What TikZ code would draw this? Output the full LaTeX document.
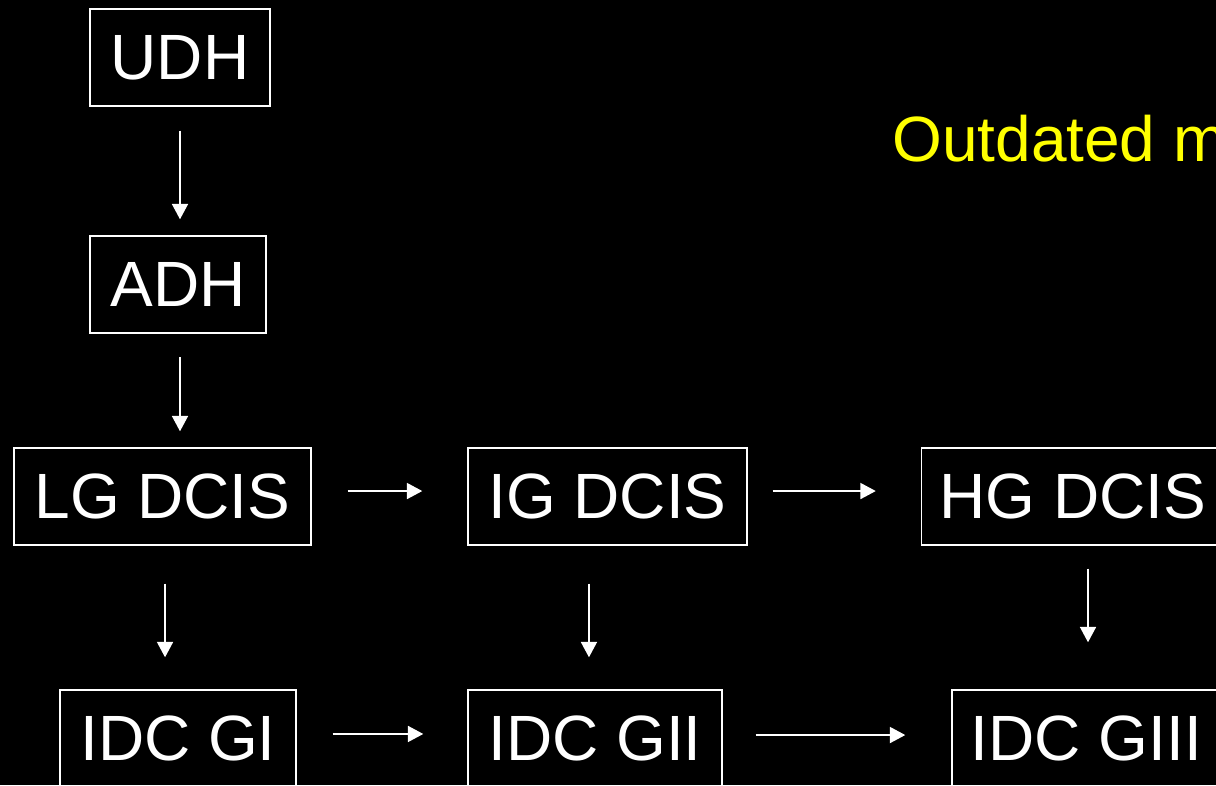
\documentclass[tikz,border=0pt]{standalone}
\usepackage{fontspec}
\setmainfont{Liberation Sans}
\usetikzlibrary{arrows.meta}
\definecolor{notey}{RGB}{255,255,0}
\begin{document}
\begin{tikzpicture}[x=0.75pt,y=-0.75pt,
  stage/.style={draw=white, line width=1.1pt, text=white, inner sep=0pt,
    minimum height=72.75pt, font=\fontsize{48}{58}\selectfont},
  flow/.style={draw=white, line width=1.2pt,
    -{Triangle[length=11.5pt,width=12pt]}}]
\useasboundingbox[fill=black] (0,0) rectangle (1216,785);
\begin{scope}
\clip (0,0) rectangle (1216,785);
% stages of the progression
\node[stage, minimum width=135pt]    (udh)  at (180,57.5)    {UDH};
\node[stage, minimum width=132pt]    (adh)  at (178,284.5)   {ADH};
\node[stage, minimum width=222.75pt] (lg)   at (162.5,496.5) {LG DCIS};
\node[stage, minimum width=209.25pt] (ig)   at (607.5,496.5) {IG DCIS};
\node[stage, minimum width=227.25pt] (hg)   at (1073,496.5)  {HG DCIS};
\node[stage, minimum width=177pt]    (gi)   at (178,738.5)   {IDC GI};
\node[stage, minimum width=190.5pt]  (gii)  at (595,738.5)   {IDC GII};
\node[stage, minimum width=201.75pt] (giii) at (1086.5,738.5){IDC GIII};
% heading
\node[anchor=base west, inner sep=0pt, text=notey,
  font=\fontsize{48}{58}\selectfont] (note) at (892,161) {Outdated m};
% vertical connectors
\draw[flow, shorten <=18pt, shorten >=12pt]
  (udh.south) -- (udh.south |- adh.north);
\draw[flow, shorten <=17.8pt, shorten >=12pt]
  (udh.south |- adh.south) -- (udh.south |- lg.north);
\draw[flow, shorten <=28.5pt, shorten >=24pt]
  ([xshift=1.9pt]lg.south) -- ([xshift=1.9pt]lg.south |- gi.north);
\draw[flow, shorten <=28.5pt, shorten >=24pt]
  ([xshift=-13.9pt]ig.south) -- ([xshift=-13.9pt]ig.south |- gii.north);
\draw[flow, shorten <=17.25pt, shorten >=35.25pt]
  ([xshift=11.25pt]hg.south) -- ([xshift=11.25pt]hg.south |- giii.north);
% horizontal connectors
\draw[flow, shorten <=27pt, shorten >=33.75pt]
  ([yshift=4.1pt]lg.east) -- ([yshift=4.1pt]ig.west);
\draw[flow, shorten <=18.75pt, shorten >=33.75pt]
  ([yshift=4.1pt]ig.east) -- ([yshift=4.1pt]hg.west);
\draw[flow, shorten <=27pt, shorten >=33pt]
  ([yshift=3.4pt]gi.east) -- ([yshift=3.4pt]gii.west);
\draw[flow, shorten <=24.75pt, shorten >=34.5pt]
  ([yshift=2.6pt]gii.east) -- ([yshift=2.6pt]giii.west);
\end{scope}
\end{tikzpicture}
\end{document}
